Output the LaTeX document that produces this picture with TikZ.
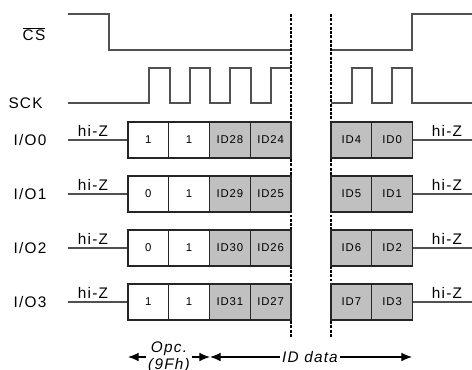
\documentclass[tikz,border=0pt]{standalone}
\usepackage{fontspec}
\setmainfont[LetterSpace=8]{Liberation Sans}
\usetikzlibrary{arrows.meta}
\definecolor{sigline}{HTML}{505050}
\definecolor{idfill}{HTML}{C0C0C0}
\tikzset{
  wave/.style={draw=sigline, line width=0.85pt},
  bit/.style={draw=black!85, line width=1pt, minimum width=30.56pt, minimum height=27pt,
    inner sep=0pt, font=\fontsize{8.5}{9}\selectfont},
  idbit/.style={bit, fill=idfill},
  lbl/.style={font=\fontsize{11.5}{13}\selectfont, inner sep=0pt},
  hiz/.style={lbl, anchor=base},
  gap/.style={line width=1pt, dash pattern=on 2.2pt off 1pt},
  span/.style={line width=0.8pt, -{Latex[length=8pt,width=6.5pt]}},
}
\begin{document}
\begin{tikzpicture}[x=0.75pt, y=-0.75pt]
  \useasboundingbox (0,0) rectangle (472,369);

  % chip select
  \node[lbl] (cs) at (34,34) {$\overline{\mbox{CS}}$};
  \draw[wave] (68,14) -- (109,14) -- (109,50) -- (291,50);
  \draw[wave] (331,50) -- (412,50) -- (412,14) -- (472,14);

  % clock
  \node[lbl] (sck) at (25.5,103) {SCK};
  \draw[wave] (68,103) -- (149,103) -- (149,68) -- (170,68) -- (170,103)
    -- (190,103) -- (190,68) -- (210,68) -- (210,103) -- (230,103) -- (230,68)
    -- (251,68) -- (251,103) -- (271,103) -- (271,68) -- (291,68);
  \draw[wave] (331,103) -- (352,103) -- (352,68) -- (372,68) -- (372,103)
    -- (392,103) -- (392,68) -- (412,68) -- (412,103) -- (472,103);

  % break in the time axis
  \draw[gap] (291,14) -- (291,338);
  \draw[gap] (331,14) -- (331,338);

  % I/O0
  \node[lbl] (io0) at (30,140) {I/O0};
  \node[bit] (io0a) at (148.4,140) {1};
  \node[bit] (io0b) at (189.1,140) {1};
  \node[idbit] (io0c) at (229.9,140) {ID28};
  \node[idbit] (io0d) at (270.6,140) {ID24};
  \node[idbit] (io0e) at (351.4,140) {ID4};
  \node[idbit] (io0f) at (392.1,140) {ID0};
  \coordinate (z0l) at (68,140);
  \coordinate (z0r) at (472,140);
  \draw[wave] (z0l) -- (io0a);
  \draw[wave] (io0f) -- (z0r);
  \node[hiz] (hz0l) at (93,136) {hi-Z};
  \node[hiz] (hz0r) at (447,136) {hi-Z};

  % I/O1
  \node[lbl] (io1) at (30,194) {I/O1};
  \node[bit] (io1a) at (148.4,194) {0};
  \node[bit] (io1b) at (189.1,194) {1};
  \node[idbit] (io1c) at (229.9,194) {ID29};
  \node[idbit] (io1d) at (270.6,194) {ID25};
  \node[idbit] (io1e) at (351.4,194) {ID5};
  \node[idbit] (io1f) at (392.1,194) {ID1};
  \coordinate (z1l) at (68,194);
  \coordinate (z1r) at (472,194);
  \draw[wave] (z1l) -- (io1a);
  \draw[wave] (io1f) -- (z1r);
  \node[hiz] (hz1l) at (93,190) {hi-Z};
  \node[hiz] (hz1r) at (447,190) {hi-Z};

  % I/O2
  \node[lbl] (io2) at (30,248) {I/O2};
  \node[bit] (io2a) at (148.4,248) {0};
  \node[bit] (io2b) at (189.1,248) {1};
  \node[idbit] (io2c) at (229.9,248) {ID30};
  \node[idbit] (io2d) at (270.6,248) {ID26};
  \node[idbit] (io2e) at (351.4,248) {ID6};
  \node[idbit] (io2f) at (392.1,248) {ID2};
  \coordinate (z2l) at (68,248);
  \coordinate (z2r) at (472,248);
  \draw[wave] (z2l) -- (io2a);
  \draw[wave] (io2f) -- (z2r);
  \node[hiz] (hz2l) at (93,244) {hi-Z};
  \node[hiz] (hz2r) at (447,244) {hi-Z};

  % I/O3
  \node[lbl] (io3) at (30,302) {I/O3};
  \node[bit] (io3a) at (148.4,302) {1};
  \node[bit] (io3b) at (189.1,302) {1};
  \node[idbit] (io3c) at (229.9,302) {ID31};
  \node[idbit] (io3d) at (270.6,302) {ID27};
  \node[idbit] (io3e) at (351.4,302) {ID7};
  \node[idbit] (io3f) at (392.1,302) {ID3};
  \coordinate (z3l) at (68,302);
  \coordinate (z3r) at (472,302);
  \draw[wave] (z3l) -- (io3a);
  \draw[wave] (io3f) -- (z3r);
  \node[hiz] (hz3l) at (93,298) {hi-Z};
  \node[hiz] (hz3r) at (447,298) {hi-Z};

  % phases
  \node[lbl, align=center, inner xsep=1.5pt, font=\fontsize{11.5}{13}\selectfont\itshape]
    (opc) at (169,357) {Opc.\\(9Fh)};
  \node[lbl, inner xsep=1.5pt, font=\fontsize{11.5}{13}\selectfont\itshape]
    (iddata) at (310,357) {ID data};
  \coordinate (opcl) at (128,357);
  \coordinate (split) at (210,357);
  \coordinate (idr) at (412,357);
  \draw[span] (opc.west |- opcl) -- (opcl);
  \draw[span] (opc.east |- split) -- (split);
  \draw[span] (iddata.west) -- (split);
  \draw[span] (iddata.east) -- (idr);
\end{tikzpicture}
\end{document}
